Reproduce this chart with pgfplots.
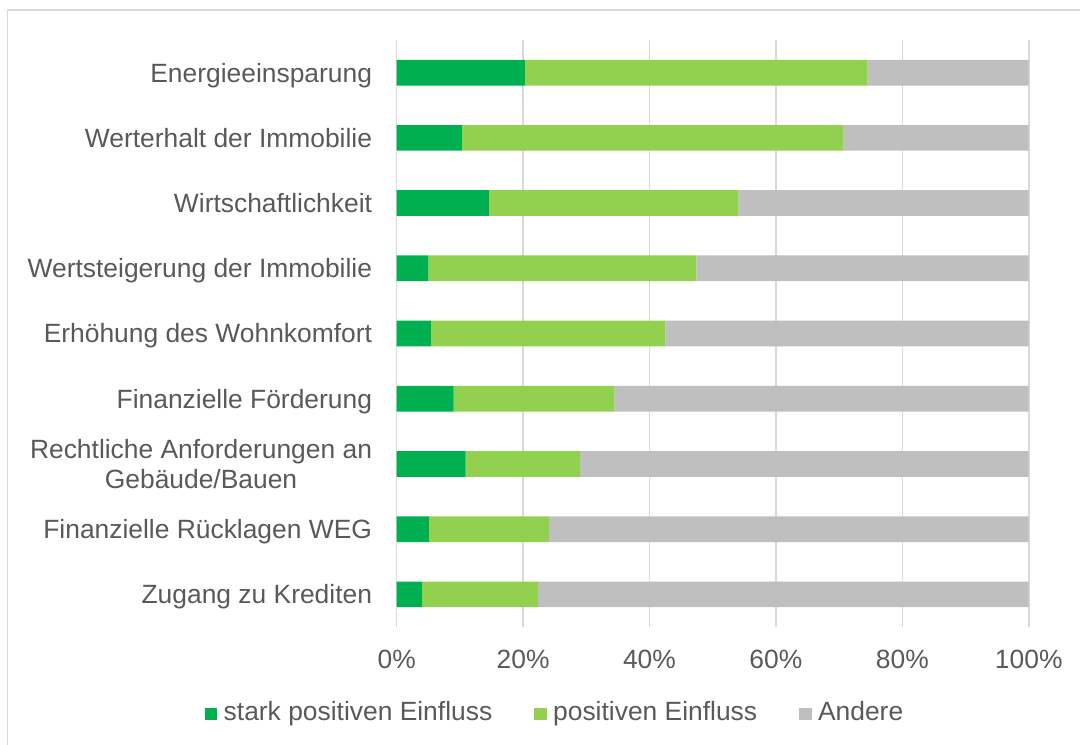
\documentclass[border=0pt]{standalone}
\usepackage{pgfplots}
\pgfplotsset{compat=1.18}
\usepackage{fontspec}
\setmainfont{Liberation Sans}
\definecolor{dgreen}{HTML}{00B050}
\definecolor{lgreen}{HTML}{92D050}
\definecolor{greyb}{HTML}{BFBFBF}
\definecolor{gridc}{HTML}{D9D9D9}
\definecolor{txt}{HTML}{595959}
\begin{document}
\begin{tikzpicture}[font=\fontsize{12}{13.6}\selectfont]
\useasboundingbox (-180.3pt,-53.6pt) rectangle (310.6pt,285pt);
\draw[gridc, line width=0.7pt] (-176.9pt,-60pt) -- (-176.9pt,280.5pt) -- (320pt,280.5pt);
\begin{axis}[
  at={(0,0)}, anchor=south west,
  scale only axis, width=287.3pt, height=266.8pt,
  xbar stacked, bar width=0.394,
  xmin=0, xmax=100, ymin=-0.5, ymax=8.5, y dir=reverse,
  xtick={0,20,40,60,80,100},
  xticklabels={0\%,20\%,40\%,60\%,80\%,100\%},
  ytick={0,...,8},
  yticklabels={Energieeinsparung,Werterhalt der Immobilie,Wirtschaftlichkeit,Wertsteigerung der Immobilie,Erhöhung des Wohnkomfort,Finanzielle Förderung,{\raisebox{6.8pt}{\begin{tabular}[t]{@{}c@{}}Rechtliche Anforderungen an\\Gebäude/Bauen\end{tabular}}},Finanzielle Rücklagen WEG,Zugang zu Krediten},
  xmajorgrids, grid style={gridc, line width=0.7pt},
  axis line style={draw=none}, major tick length=0pt,
  tick label style={text=txt, font=\fontsize{12}{13.6}\selectfont},
  xticklabel style={inner sep=0pt, anchor=base, yshift=-18.8pt},
  yticklabel style={inner sep=0pt, anchor=base east, xshift=-11pt, yshift=-4.3pt},
  legend columns=3,
  legend style={draw=none, fill=none, inner sep=0pt, at={(rel axis cs:0,0)}, anchor=north west, xshift=-87.5pt, yshift=-33.5pt,
    nodes={inner sep=0pt, anchor=base west, text=txt, font=\fontsize{12}{13.6}\selectfont},
    column sep=0pt,
    /tikz/every odd column/.append style={column sep=3pt},
    /tikz/every even column/.append style={column sep=19pt}},
  legend image code/.code={\fill[#1] (0pt,0pt) rectangle (5.7pt,5.7pt);},
]
\addplot[fill=dgreen, draw=none] coordinates {(20.3,0) (10.3,1) (14.6,2) (5.0,3) (5.4,4) (9.0,5) (10.9,6) (5.1,7) (4.0,8)};
\addplot[fill=lgreen, draw=none] coordinates {(54.2,0) (60.4,1) (39.5,2) (42.4,3) (37.1,4) (25.5,5) (18.1,6) (19.0,7) (18.4,8)};
\addplot[fill=greyb, draw=none] coordinates {(25.5,0) (29.3,1) (45.9,2) (52.6,3) (57.5,4) (65.5,5) (71.0,6) (75.9,7) (77.6,8)};
\legend{stark positiven Einfluss,positiven Einfluss,Andere}
\end{axis}
\end{tikzpicture}
\end{document}
